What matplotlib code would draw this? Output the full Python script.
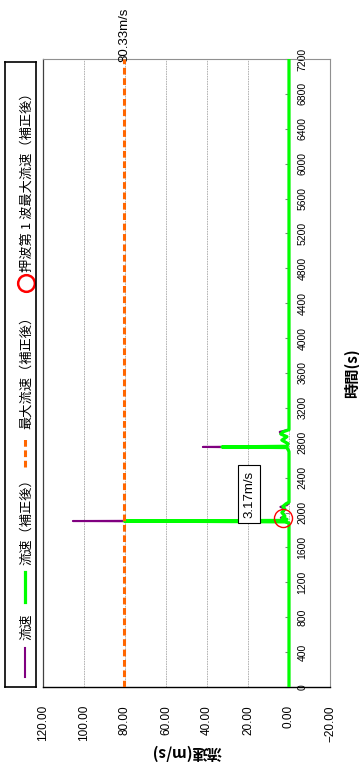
import matplotlib
matplotlib.use('Agg')
import matplotlib.pyplot as plt

# ─── データ : 時間(s) と 流速(m/s) ───
t_raw = [0, 1880, 1893, 1903, 1910, 1922, 1940, 1960, 2000, 2040, 2065, 2085, 2110, 2700,
         2745, 2752, 2760, 2790, 2830, 2870, 2900, 2925, 2950, 7200]
v_raw = [0, 0, 2.0, 105.4, 3.0, 1.0, 4.0, 2.0, 3.0, 2.0, 4.2, 1.0, 0, 0,
         1.0, 42.0, 1.0, 0.6, 3.0, 1.0, 4.0, 4.5, 0, 0]

t_cor = [0, 1880, 1893, 1903, 1910, 1922, 1940, 1960, 2000, 2040, 2070, 2100, 2120, 2700,
         2745, 2752, 2760, 2790, 2830, 2870, 2900, 2925, 2950, 7200]
v_cor = [0, 0, 2.0, 80.33, 3.0, 1.0, 3.17, 2.0, 3.5, 2.0, 3.0, 1.5, 0, 0,
         1.0, 32.7, 1.0, 0.5, 3.5, 1.0, 4.0, 3.0, 0, 0]

v_max_cor = 80.33            # 最大流速(補正後)
t_push, v_push = 1940, 3.17  # 押波第1波最大流速(補正後)

v_ticks = [120, 100, 80, 60, 40, 20, 0, -20]
t_ticks = list(range(0, 7201, 400))
legend_labels = ['流速', '流速（補正後）', '最大流速（補正後）', '押波第 1 波最大流速（補正後）']

C_RAW, C_COR, C_MAX, C_PUSH = '#800080', '#00ff00', '#ff6600', '#ff0000'
JP = ['Noto Sans CJK JP', 'DejaVu Sans']
LAT = ['Liberation Sans', 'DejaVu Sans']

W, H = 359, 773
fig = plt.figure(figsize=(W / 100, H / 100), dpi=100)

# ─── グラフ本体 (90°回転したレイアウト) ───
ax = fig.add_axes([43 / W, 1 - 687 / H, (330 - 43) / W, (687 - 59) / H])
ax.set_xlim(120, -20)
ax.set_ylim(0, 7200)

ax.set_xticks(v_ticks)
ax.set_xticklabels([f'{v:.2f}'.replace('-', '−') for v in v_ticks],
                   rotation=90, fontsize=8.5, family=LAT)
ax.tick_params(axis='x', length=0, pad=13)
ax.grid(axis='x', color='#a8a8a8', lw=0.6, ls=(0, (2, 1)))

ax.yaxis.tick_right()
ax.spines['right'].set_position(('data', 0))
ax.spines['right'].set_visible(False)
ax.set_yticks(t_ticks)
ax.set_yticklabels([str(t) for t in t_ticks], rotation=90, fontsize=7.5, family=LAT)
for lbl in ax.get_yticklabels():
    lbl.set_va('center')
ax.tick_params(axis='y', direction='in', length=3, color='#808080', pad=6)

ax.spines['left'].set_color('#404040')
ax.spines['left'].set_linewidth(0.9)
ax.spines['bottom'].set_color('black')
ax.spines['bottom'].set_linewidth(1.0)
ax.spines['top'].set_color('#909090')
ax.spines['top'].set_linewidth(0.8)
ax.axvline(-20, color='#909090', lw=0.8, clip_on=False)

ax.plot(v_raw, t_raw, color=C_RAW, lw=1.5, zorder=3)
ax.plot(v_cor, t_cor, color=C_COR, lw=2.3, zorder=4)
ax.axvline(v_max_cor, color=C_MAX, lw=2.2, ls=(0, (2.2, 1.2)), zorder=5)
ax.plot([v_push], [t_push], 'o', mfc='none', mec=C_PUSH, ms=13, mew=1, zorder=6)

ax.annotate(f'{v_max_cor:.2f}m/s', xy=(v_max_cor, 7200), xytext=(0, -2),
            textcoords='offset points', rotation=90, ha='center', va='bottom',
            fontsize=9.5, family=LAT, annotation_clip=False)
ax.annotate(f'{v_push:.2f}m/s', xy=(v_push, t_push), xytext=(-24, 17),
            textcoords='offset points', rotation=90, ha='center', va='center',
            fontsize=9.5, family=LAT, zorder=7,
            bbox=dict(boxstyle='square,pad=0.4', fc='white', ec='black', lw=0.8))

ax.set_xlabel('流速(m/s)', rotation=180, fontsize=11, family=JP, weight='bold')
ax.xaxis.set_label_coords(0.5, -(752 - 687) / 628)
ax.xaxis.label.set_va('center')
ax.set_ylabel('時間(s)', rotation=90, fontsize=11, family=JP, weight='bold')
ax.yaxis.set_label_coords((352 - 43) / 287, 0.5)
ax.yaxis.label.set_va('center')
ax.yaxis.label.set_ha('center')

# ─── 凡例 (回転) ───
lax = fig.add_axes([5 / W, 1 - 687 / H, 31 / W, (687 - 62) / H])
lax.set_xlim(0, 31)
lax.set_ylim(687, 62)
lax.set_xticks([])
lax.set_yticks([])
for s in lax.spines.values():
    s.set_linewidth(1.2)
    s.set_color('black')

lax.plot([20, 20], [677, 648], color=C_RAW, lw=1.5)
lax.plot([20, 20], [602, 572], color=C_COR, lw=2.3)
lax.plot([20, 20], [467, 437], color=C_MAX, lw=2.2, ls=(0, (2.2, 1.2)))
lax.plot([20.5], [283], 'o', mfc='none', mec=C_PUSH, ms=12, mew=1.8)
for lab, y0 in zip(legend_labels, [640, 565, 429, 272]):
    lax.text(22, y0, lab, rotation=90, ha='center', va='bottom', fontsize=9.5, family=JP)

fig.savefig('out.png', dpi=100)
